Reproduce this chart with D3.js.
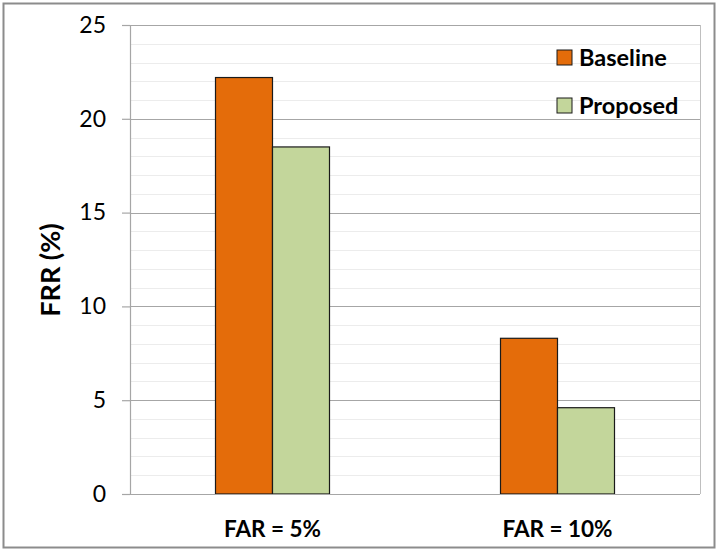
<!DOCTYPE html>
<html>
<head>
<meta charset="utf-8">
<script src="https://cdn.jsdelivr.net/npm/d3@7"></script>
<style>
  body { margin: 0; background: #fff; }
  svg text { font-family: Lato, "Open Sans", sans-serif; fill: #000; }
</style>
</head>
<body>
<div id="chart"></div>
<script>
// data
var categories = ["FAR = 5%", "FAR = 10%"];
var seriesNames = ["Baseline", "Proposed"];
var baseline = [22.2, 8.3];
var proposed = [18.5, 4.6];
var yTicks = [0, 5, 10, 15, 20, 25];
var seriesColors = ["#E46C0A", "#C3D69B"];

var width = 718, height = 551;
var margin = { left: 130, right: 18, top: 25, bottom: 57 };

var svg = d3.select("#chart").append("svg")
  .attr("width", width)
  .attr("height", height);

// outer chart frame
svg.append("rect")
  .attr("x", 3.5).attr("y", 3.5)
  .attr("width", width - 7).attr("height", height - 7)
  .attr("fill", "#fff")
  .attr("stroke", "#8c8c8c")
  .attr("stroke-width", 2);

var x0 = d3.scaleBand()
  .domain(categories)
  .range([margin.left, width - margin.right])
  .paddingInner(0.6)
  .paddingOuter(0.3);

var x1 = d3.scaleBand()
  .domain(seriesNames)
  .range([0, x0.bandwidth()]);

var y = d3.scaleLinear()
  .domain([0, 25])
  .range([height - margin.bottom, margin.top]);

var plot = svg.append("g");

// minor gridlines every 1
plot.append("g")
  .selectAll("line")
  .data(d3.range(1, 25).filter(function(d) { return d % 5 != 0; }))
  .enter()
  .append("line")
  .attr("x1", margin.left).attr("x2", width - margin.right)
  .attr("y1", function(d) { return Math.round(y(d)) + 0.5; })
  .attr("y2", function(d) { return Math.round(y(d)) + 0.5; })
  .attr("stroke", "#ececec")
  .attr("stroke-width", 1);

// major gridlines
plot.append("g")
  .selectAll("line")
  .data(yTicks.slice(1))
  .enter()
  .append("line")
  .attr("x1", margin.left).attr("x2", width - margin.right)
  .attr("y1", function(d) { return Math.round(y(d)) + 0.5; })
  .attr("y2", function(d) { return Math.round(y(d)) + 0.5; })
  .attr("stroke", "#a6a6a6")
  .attr("stroke-width", 1.2);

// plot area border on the right
plot.append("line")
  .attr("x1", width - margin.right + 0.5).attr("x2", width - margin.right + 0.5)
  .attr("y1", y(25)).attr("y2", y(0))
  .attr("stroke", "#bfbfbf");

// bars
var rows = categories.map(function(c, i) {
  return { cat: c, values: [baseline[i], proposed[i]] };
});

var groups = plot.append("g")
  .selectAll("g")
  .data(rows)
  .enter()
  .append("g")
  .attr("transform", function(d) { return "translate(" + x0(d.cat) + ",0)"; });

groups.selectAll("rect")
  .data(function(d) {
    return d.values.map(function(v, j) { return { name: seriesNames[j], value: v, color: seriesColors[j] }; });
  })
  .enter()
  .append("rect")
  .attr("x", function(d) { return x1(d.name); })
  .attr("width", x1.bandwidth())
  .attr("y", function(d) { return y(d.value); })
  .attr("height", function(d) { return y(0) - y(d.value); })
  .attr("fill", function(d) { return d.color; })
  .attr("stroke", "#1a1a1a")
  .attr("stroke-width", 1.2);

// y axis
var yAxis = d3.axisLeft(y)
  .tickValues(yTicks)
  .tickSize(8)
  .tickPadding(16)
  .tickFormat(d3.format("d"));

var yg = svg.append("g")
  .attr("transform", "translate(" + margin.left + ",0)")
  .call(yAxis);
yg.selectAll("line").attr("stroke", "#a6a6a6").attr("stroke-width", 1.2);
yg.select(".domain").attr("stroke", "#a6a6a6").attr("stroke-width", 1.2)
  .attr("d", "M0.5," + y(25) + "V" + y(0));
yg.selectAll("text")
  .style("font-size", "23px")
  .style("font-family", "Lato, 'Open Sans', sans-serif");

// x axis baseline
svg.append("line")
  .attr("x1", margin.left).attr("x2", width - margin.right)
  .attr("y1", y(0) + 0.5).attr("y2", y(0) + 0.5)
  .attr("stroke", "#a6a6a6")
  .attr("stroke-width", 1.2);

// category labels
svg.append("g")
  .selectAll("text")
  .data(categories)
  .enter()
  .append("text")
  .attr("x", function(d) { return x0(d) + x0.bandwidth() / 2; })
  .attr("y", 537)
  .attr("text-anchor", "middle")
  .style("font-size", "22.5px")
  .style("font-weight", "bold")
  .text(function(d) { return d; });

// y axis title
svg.append("text")
  .attr("transform", "translate(60," + 270 + ") rotate(-90)")
  .attr("text-anchor", "middle")
  .style("font-size", "27px")
  .style("font-weight", "bold")
  .text("FRR (%)");

// legend
var legend = svg.append("g")
  .selectAll("g")
  .data(seriesNames)
  .enter()
  .append("g")
  .attr("transform", function(d, i) { return "translate(557," + (57 + i * 48) + ")"; });

legend.append("rect")
  .attr("x", 0).attr("y", -7)
  .attr("width", 15).attr("height", 15)
  .attr("fill", function(d, i) { return seriesColors[i]; })
  .attr("stroke", "#1a1a1a")
  .attr("stroke-width", 1);

legend.append("text")
  .attr("x", 22)
  .attr("y", 9)
  .style("font-size", "23.5px")
  .style("font-weight", "bold")
  .text(function(d) { return d; });
</script>
</body>
</html>
